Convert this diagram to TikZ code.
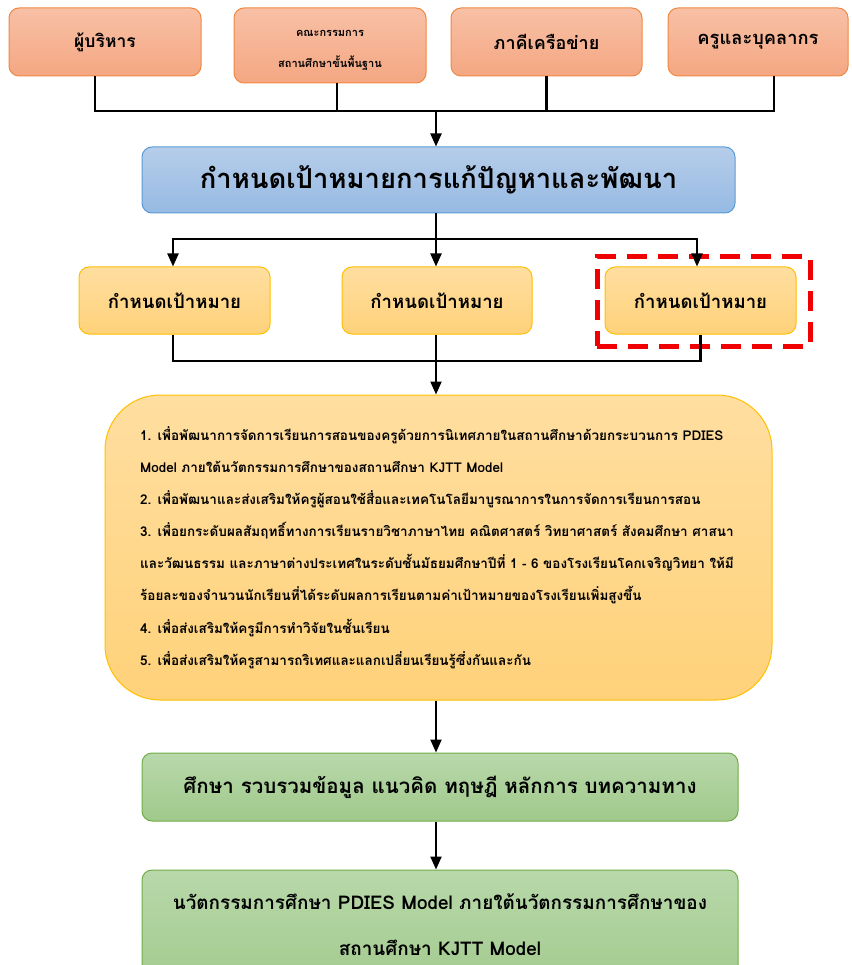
\documentclass[tikz,border=0pt]{standalone}
\usepackage{fontspec}
\newfontfamily\thaifont[Script=Thai]{Loma}
\usetikzlibrary{arrows.meta}
\definecolor{orTop}{RGB}{248,192,166}
\definecolor{orBot}{RGB}{244,167,130}
\definecolor{orLine}{RGB}{240,136,66}
\definecolor{blTop}{RGB}{182,205,234}
\definecolor{blBot}{RGB}{150,186,227}
\definecolor{blLine}{RGB}{91,155,213}
\definecolor{yeTop}{RGB}{255,222,160}
\definecolor{yeBot}{RGB}{255,210,122}
\definecolor{yeLine}{RGB}{255,192,0}
\definecolor{grTop}{RGB}{184,216,170}
\definecolor{grBot}{RGB}{160,201,139}
\definecolor{grLine}{RGB}{112,173,71}
\definecolor{hlRed}{RGB}{240,0,0}
\tikzset{
  box/.style={rounded corners=10pt, line width=1pt, inner sep=0pt, align=center,
    font=\thaifont\bfseries},
  topbox/.style={box, draw=orLine, top color=orTop, bottom color=orBot},
  goalbox/.style={box, draw=blLine, top color=blTop, bottom color=blBot},
  aimbox/.style={box, draw=yeLine, top color=yeTop, bottom color=yeBot},
  bigbox/.style={box, rounded corners=55pt, draw=yeLine, top color=yeTop, bottom color=yeBot},
  greenbox/.style={box, draw=grLine, top color=grTop, bottom color=grBot},
  conn/.style={line width=2.2pt, black},
  arr/.style={conn, -{Triangle[length=13pt,width=11pt]}},
  darr/.style={conn, {Triangle[length=13pt,width=11pt]}-{Triangle[length=13pt,width=11pt]}},
  hlbox/.style={draw=hlRed, line width=5pt, dash pattern=on 20pt off 11pt, inner sep=0pt},
  itemtxt/.style={anchor=base west, inner sep=0pt, font=\thaifont\bfseries\fontsize{13.5}{15}\selectfont},
}
\begin{document}
\begin{tikzpicture}[x=1pt,y=-1pt]
\useasboundingbox (0,0) rectangle (851,965);
% top row
\node[topbox, minimum width=192pt, minimum height=68pt, font=\thaifont\bfseries\fontsize{17.5}{20}\selectfont] (top1) at (105,42) {ผู้บริหาร};
\node[topbox, minimum width=192pt, minimum height=75pt] (top2) at (330,45.5) {};
\node[inner sep=0pt, font=\thaifont\bfseries\fontsize{11}{13}\selectfont] (top2a) at (330,33) {คณะกรรมการ};
\node[inner sep=0pt, font=\thaifont\bfseries\fontsize{11}{13}\selectfont] (top2b) at (330,63) {สถานศึกษาขั้นพื้นฐาน};
\node[topbox, minimum width=191pt, minimum height=68pt, font=\thaifont\bfseries\fontsize{18}{20}\selectfont] (top3) at (546.5,42) {ภาคีเครือข่าย};
\node[topbox, minimum width=180pt, minimum height=68pt, font=\thaifont\bfseries\fontsize{18.3}{20}\selectfont] (top4) at (758,42) {ครูและบุคลากร};
% goal
\node[goalbox, minimum width=593pt, minimum height=66pt, font=\thaifont\bfseries\fontsize{27.4}{30}\selectfont] (goal) at (438.5,180) {กำหนดเป้าหมายการแก้ปัญหาและพัฒนา};
% aims
\node[hlbox, minimum width=213pt, minimum height=89pt] (hl) at (703.5,301.5) {};
\node[aimbox, minimum width=191pt, minimum height=67pt, font=\thaifont\bfseries\fontsize{18.6}{20}\selectfont] (t1) at (174.5,300.5) {กำหนดเป้าหมาย};
\node[aimbox, minimum width=190pt, minimum height=67pt, font=\thaifont\bfseries\fontsize{18.6}{20}\selectfont] (t2) at (437,300.5) {กำหนดเป้าหมาย};
\node[aimbox, minimum width=191pt, minimum height=67pt, font=\thaifont\bfseries\fontsize{18.6}{20}\selectfont] (t3) at (700.5,300.5) {กำหนดเป้าหมาย};
% big box
\node[bigbox, minimum width=667pt, minimum height=305pt] (big) at (438.5,547.5) {};
\node[itemtxt] (l1) at (140,440) {1. เพื่อพัฒนาการจัดการเรียนการสอนของครูด้วยการนิเทศภายในสถานศึกษาด้วยกระบวนการ PDIES};
\node[itemtxt] (l2) at (140,472) {Model ภายใต้นวัตกรรมการศึกษาของสถานศึกษา KJTT Model};
\node[itemtxt] (l3) at (140,504) {2. เพื่อพัฒนาและส่งเสริมให้ครูผู้สอนใช้สื่อและเทคโนโลยีมาบูรณาการในการจัดการเรียนการสอน};
\node[itemtxt] (l4) at (140,536) {3. เพื่อยกระดับผลสัมฤทธิ์ทางการเรียนรายวิชาภาษาไทย คณิตศาสตร์ วิทยาศาสตร์ สังคมศึกษา ศาสนา};
\node[itemtxt] (l5) at (140,568) {และวัฒนธรรม และภาษาต่างประเทศในระดับชั้นมัธยมศึกษาปีที่ 1 - 6 ของโรงเรียนโคกเจริญวิทยา ให้มี};
\node[itemtxt] (l6) at (140,600) {ร้อยละของจำนวนนักเรียนที่ได้ระดับผลการเรียนตามค่าเป้าหมายของโรงเรียนเพิ่มสูงขึ้น};
\node[itemtxt] (l7) at (140,633) {4. เพื่อส่งเสริมให้ครูมีการทำวิจัยในชั้นเรียน};
\node[itemtxt] (l8) at (140,665) {5. เพื่อส่งเสริมให้ครูสามารถริเทศและแลกเปลี่ยนเรียนรู้ซึ่งกันและกัน};
% green boxes
\node[greenbox, minimum width=596pt, minimum height=68pt, font=\thaifont\bfseries\fontsize{20.5}{22}\selectfont] (g1) at (440,787) {ศึกษา รวบรวมข้อมูล แนวคิด ทฤษฎี หลักการ บทความทาง};
\node[greenbox, minimum width=596pt, minimum height=130pt] (g2) at (440,935) {};
\node[anchor=base, inner sep=0pt, font=\thaifont\bfseries\fontsize{18.9}{22}\selectfont] (g2a) at (440,909) {นวัตกรรมการศึกษา PDIES Model ภายใต้นวัตกรรมการศึกษาของ};
\node[anchor=base, inner sep=0pt, font=\thaifont\bfseries\fontsize{18.9}{22}\selectfont] (g2b) at (440,955) {สถานศึกษา KJTT Model};
% connectors top
\coordinate (j1) at (436,111);
\draw[conn] ([xshift=-10pt]top1.south) |- (j1) -| ([xshift=16pt]top4.south);
\draw[conn] ([xshift=7pt]top2.south) -- ([xshift=7pt]top2.south |- j1);
\draw[conn] (top3.south) -- (top3.south |- j1);
\draw[arr] (j1) -- (j1 |- goal.north);
% connectors to aims
\coordinate (j2) at (436,239);
\draw[conn] (j2 |- goal.south) -- (j2);
\draw[darr] ([xshift=-1.5pt]t1.north) |- (j2) -| ([xshift=-3.5pt]t3.north);
\draw[arr] (j2) -- (j2 |- t2.north);
% connectors to big
\coordinate (j3) at (436,361);
\draw[conn] ([xshift=-1.5pt]t1.south) |- (j3) -| (t3.south);
\draw[conn] (j3 |- t2.south) -- (j3);
\draw[arr] (j3) -- (j3 |- big.north);
% lower
\draw[arr] (j3 |- big.south) -- (j3 |- g1.north);
\draw[arr] (j3 |- g1.south) -- (j3 |- g2.north);
\end{tikzpicture}
\end{document}
